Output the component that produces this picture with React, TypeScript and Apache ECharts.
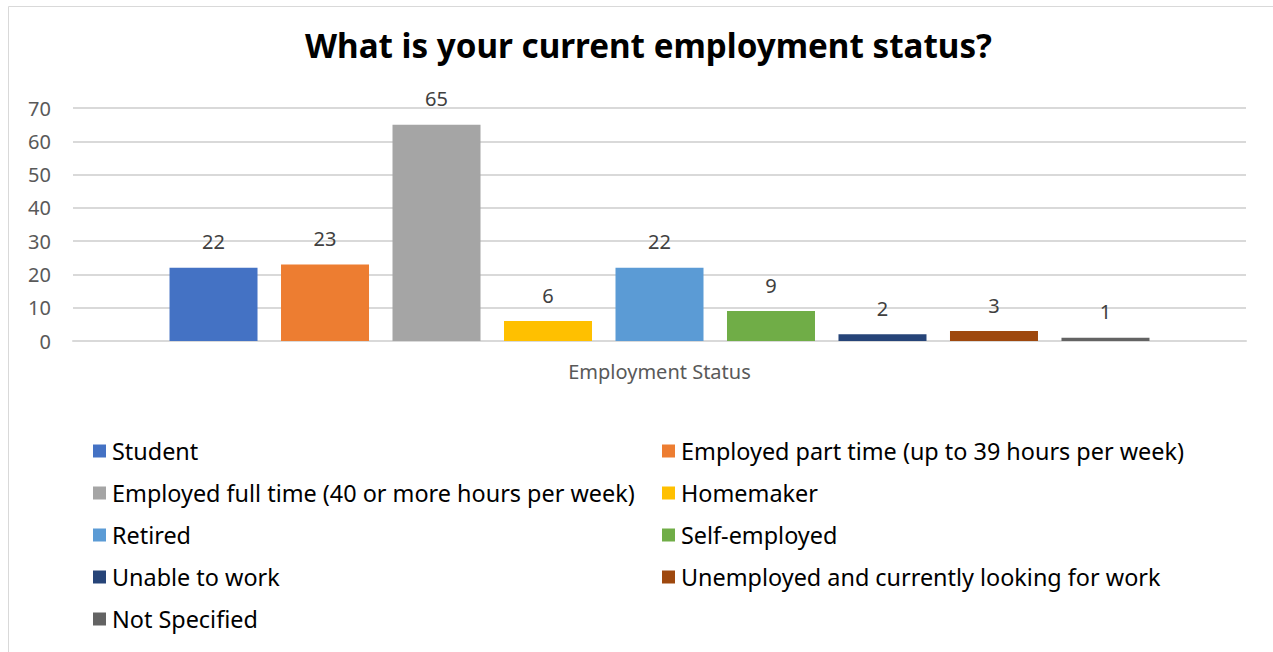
import React, { useEffect, useRef } from "react";
import * as echarts from "echarts";

const title = "What is your current employment status?";
const categories = ["Employment Status"];
const seriesNames = [
  "Student",
  "Employed part time (up to 39 hours per week)",
  "Employed full time (40 or more hours per week)",
  "Homemaker",
  "Retired",
  "Self-employed",
  "Unable to work",
  "Unemployed and currently looking for work",
  "Not Specified",
];
const seriesValues = [22, 23, 65, 6, 22, 9, 2, 3, 1];
const seriesColors = [
  "#4472C4",
  "#ED7D31",
  "#A5A5A5",
  "#FFC000",
  "#5B9BD5",
  "#70AD47",
  "#264478",
  "#9E480E",
  "#636363",
];
const yTicks = { min: 0, max: 70, interval: 10 };

const FONT = "'Noto Sans', sans-serif";

export default function App() {
  const ref = useRef<HTMLDivElement>(null);
  useEffect(() => {
    if (!ref.current) return;
    const chart = echarts.init(ref.current, null, { renderer: "svg" });
    const leftNames = seriesNames.filter((_, i) => i % 2 === 0);
    const rightNames = seriesNames.filter((_, i) => i % 2 === 1);
    const legendCommon = {
      orient: "vertical",
      top: 434,
      itemWidth: 13,
      itemHeight: 13,
      itemGap: 18,
      icon: "rect",
      textStyle: { fontFamily: FONT, fontSize: 23.4, color: "#000", lineHeight: 24, padding: [0, 0, 0, 1] },
    };
    chart.setOption({
      animation: false,
      backgroundColor: "#fff",
      textStyle: { fontFamily: FONT },
      title: {
        text: title,
        left: 300,
        top: 24,
        textStyle: { fontFamily: FONT, fontSize: 33.2, fontWeight: "bold", color: "#000" },
      },
      graphic: [
        {
          type: "rect",
          shape: { x: 8.5, y: 6.5, width: 1300, height: 700 },
          style: { fill: "none", stroke: "#d9d9d9", lineWidth: 1 },
          silent: true,
        },
      ],
      legend: [
        { ...legendCommon, left: 88, data: leftNames },
        { ...legendCommon, left: 657, data: rightNames },
      ],
      grid: { left: 73, right: 27, top: 108, bottom: 311, containLabel: false },
      xAxis: {
        type: "category",
        data: categories,
        axisLine: { show: true, lineStyle: { color: "#d9d9d9", width: 2 } },
        axisTick: { show: false },
        axisLabel: { color: "#595959", fontSize: 20, fontFamily: FONT, margin: 20 },
      },
      yAxis: {
        type: "value",
        min: yTicks.min,
        max: yTicks.max,
        interval: yTicks.interval,
        axisLine: { show: false },
        axisTick: { show: false },
        splitLine: { lineStyle: { color: "#d9d9d9", width: 2 } },
        axisLabel: { color: "#595959", fontSize: 20, fontFamily: FONT, margin: 22 },
      },
      series: seriesNames.map((name, i) => ({
        name,
        type: "bar",
        data: [seriesValues[i]],
        barWidth: 88,
        barGap: "26.7%",
        itemStyle: { color: seriesColors[i] },
        label: {
          show: true,
          position: "top",
          distance: 16,
          color: "#404040",
          fontSize: 20,
          fontFamily: FONT,
        },
      })),
    });
    return () => chart.dispose();
  }, []);
  return (
    <div
      ref={ref}
      style={{ position: "absolute", left: 0, top: 0, width: 1273, height: 652 }}
    />
  );
}
